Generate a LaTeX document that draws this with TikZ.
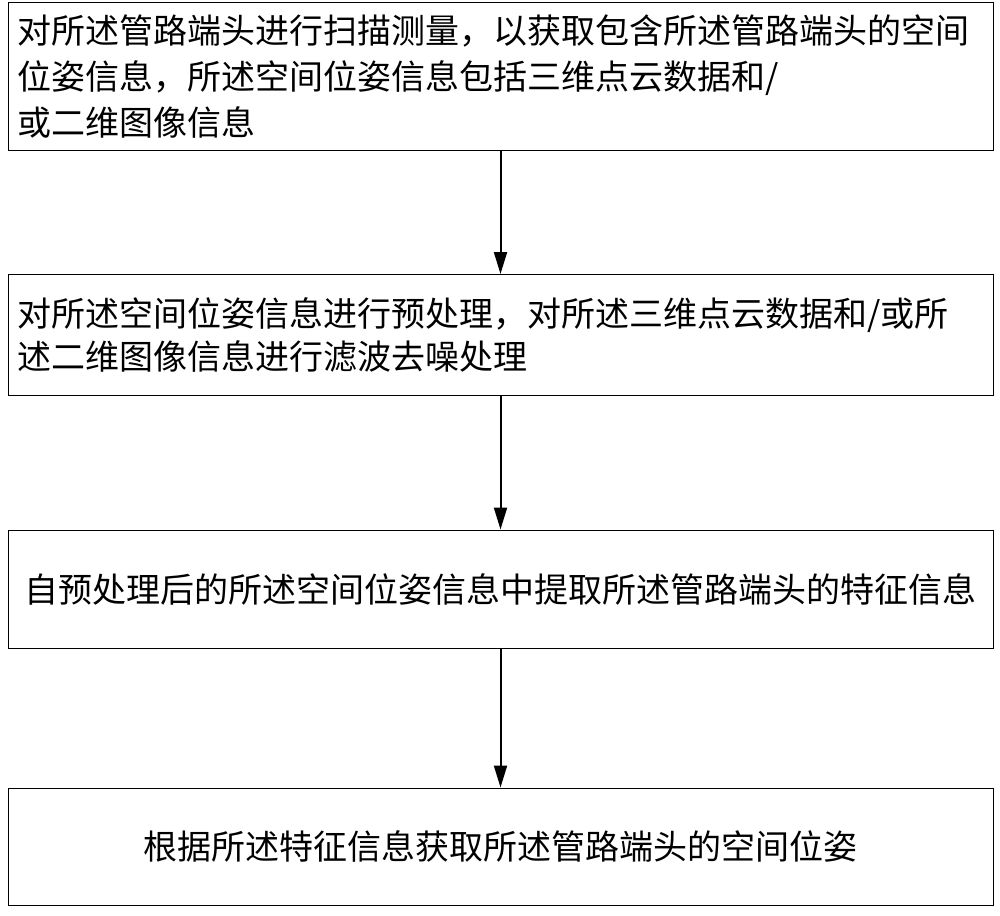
\documentclass[tikz,border=0pt]{standalone}
\usepackage{fontspec}
\newfontfamily\cjk{Noto Sans CJK SC}
\usetikzlibrary{arrows.meta}
\begin{document}
\begin{tikzpicture}[x=1pt,y=-1pt,
  box/.style={draw,line width=1pt,minimum width=985pt,text width=967pt,inner sep=0pt,align=left,font=\cjk\fontsize{34}{46}\selectfont},
  cbox/.style={box,align=center},
  arr/.style={-{Triangle[length=22pt,width=13pt]},line width=2pt}]
\useasboundingbox (0,0) rectangle (1000,915);
\node[box,minimum height=147pt] (a) at (500.5,76.5) {对所述管路端头进行扫描测量，以获取包含所述管路端头的空间\\位姿信息，所述空间位姿信息包括三维点云数据和/\\或二维图像信息};
\node[box,minimum height=121pt,font=\cjk\fontsize{34}{43}\selectfont] (b) at (500.5,335) {对所述空间位姿信息进行预处理，对所述三维点云数据和/或所\\述二维图像信息进行滤波去噪处理};
\node[cbox,minimum height=118pt] (c) at (500.5,589) {自预处理后的所述空间位姿信息中提取所述管路端头的特征信息};
\node[cbox,minimum height=117pt] (d) at (500.5,846.5) {根据所述特征信息获取所述管路端头的空间位姿};
\draw[arr] (a) -- (b);
\draw[arr] (b) -- (c);
\draw[arr] (c) -- (d);
\end{tikzpicture}
\end{document}
